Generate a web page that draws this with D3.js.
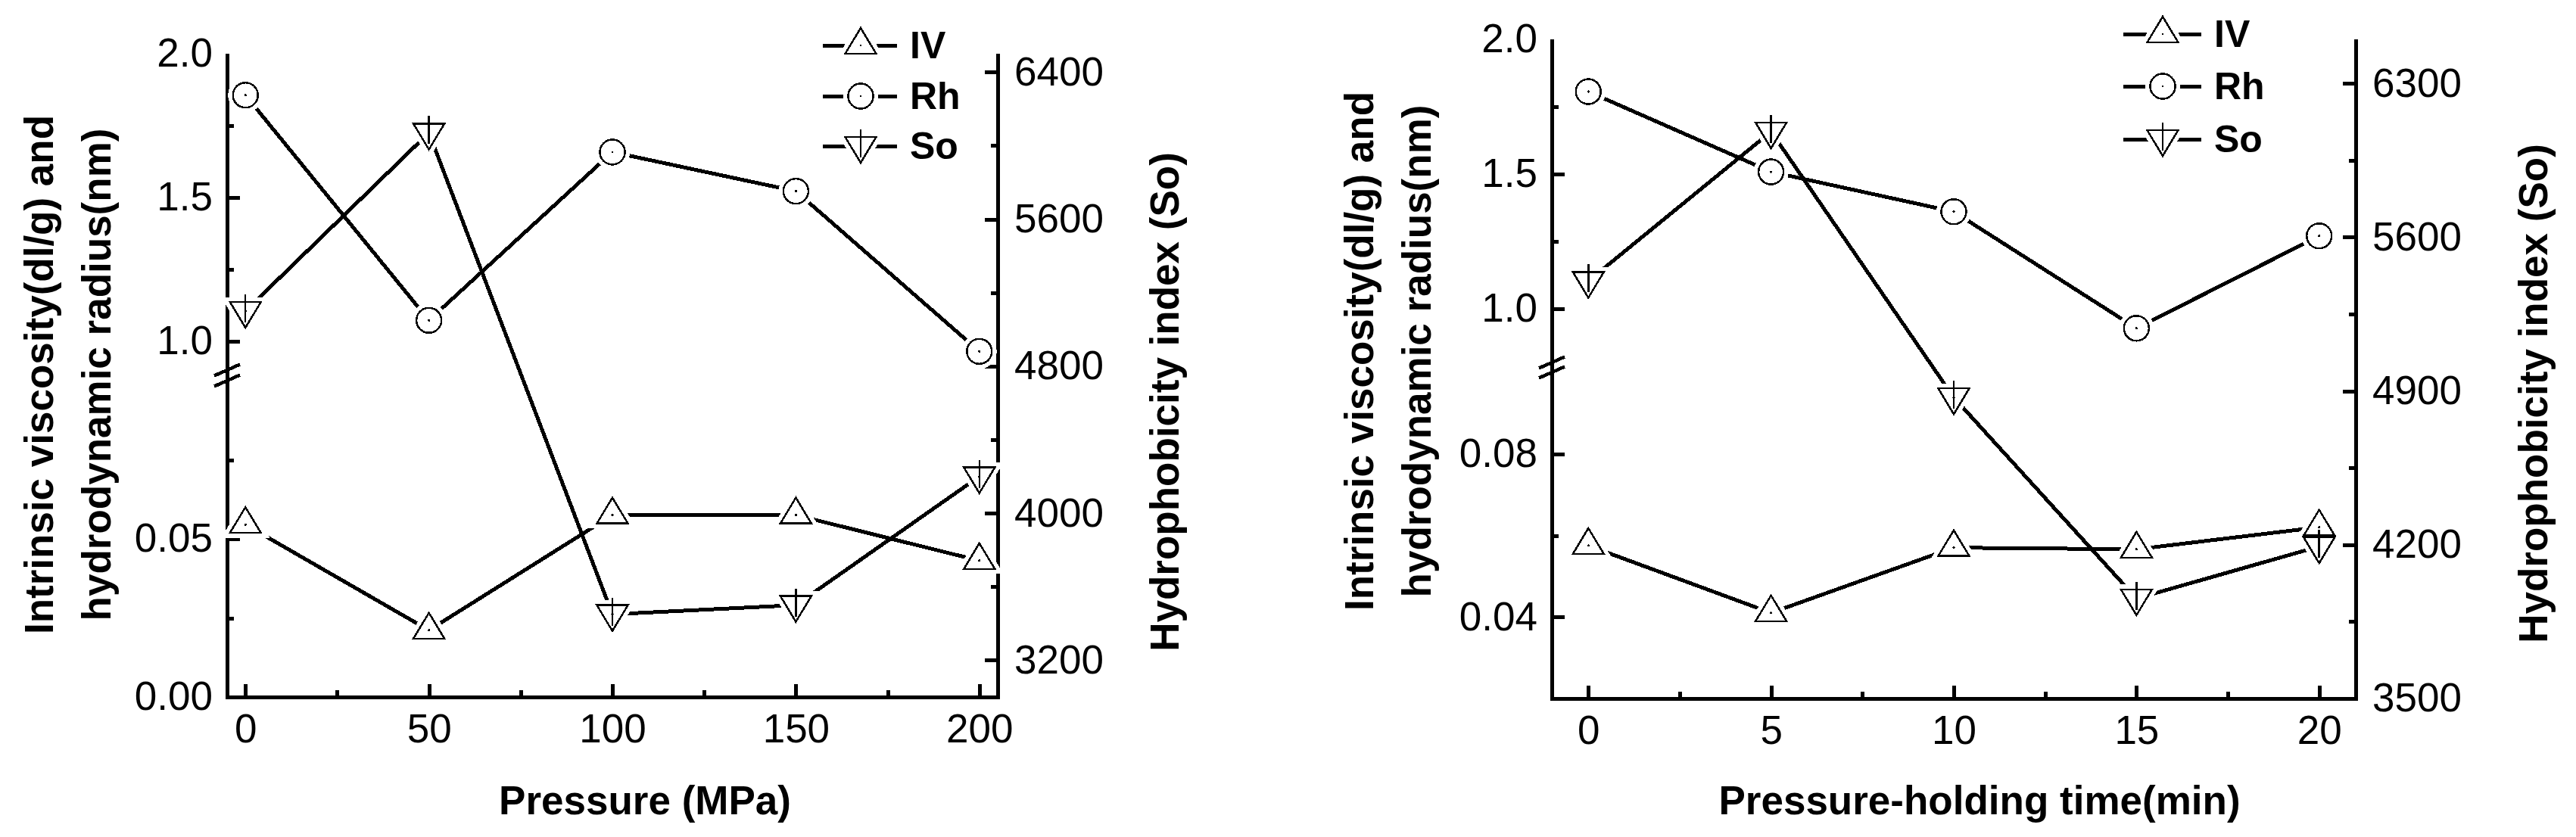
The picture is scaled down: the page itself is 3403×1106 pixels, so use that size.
<!DOCTYPE html>
<html>
<head>
<meta charset="utf-8">
<script src="https://cdn.jsdelivr.net/npm/d3@7"></script>
<style>
  body { margin: 0; background: #fff; }
  svg text { font-family: "Liberation Sans", Arial, sans-serif; fill: #000; }
  svg path, svg line, svg circle { shape-rendering: crispEdges; }
</style>
</head>
<body>
<svg id="chart" width="3403" height="1106"></svg>
<script>
// ---- left panel: pressure ----
const pressure = [0, 50, 100, 150, 200]
const ivPressure = [0.0545, 0.0211, 0.0575, 0.0575, 0.0431]
const rhPressure = [1.856, 1.073, 1.658, 1.522, 0.965]
const soPressure = [5100, 6070, 3450, 3500, 4200]

const pressureTicks = [0, 50, 100, 150, 200]
const pressureMinor = [25, 75, 125, 175]
const pressureLowTicks = [0, 0.05]
const pressureLowMinor = [0.025, 0.075]
const pressureUpTicks = [1.0, 1.5, 2.0]
const pressureUpMinor = [1.25, 1.75]
const pressureSoTicks = [3200, 4000, 4800, 5600, 6400]
const pressureSoMinor = [3600, 4400, 5200, 6000]

// ---- right panel: pressure-holding time ----
const holdTime = [0, 5, 10, 15, 20]
const ivTime = [0.0575, 0.041, 0.057, 0.0566, 0.062]
const rhTime = [1.806, 1.508, 1.36, 0.927, 1.27]
const soTime = [5400, 6080, 4870, 3955, 4192]

const timeTicks = [0, 5, 10, 15, 20]
const timeMinor = [2.5, 7.5, 12.5, 17.5]
const timeLowTicks = [0.04, 0.08]
const timeLowMinor = [0.06]
const timeUpTicks = [1.0, 1.5, 2.0]
const timeUpMinor = [1.25, 1.75]
const timeSoTicks = [3500, 4200, 4900, 5600, 6300]
const timeSoMinor = [3850, 4550, 5250, 5950]

const seriesNames = ['IV', 'Rh', 'So']

const panels = [
    {
        x: pressure, iv: ivPressure, rh: rhPressure, so: soPressure,
        xDomain: [-5, 205], lowDomain: [0, 0.1], upDomain: [0.9, 2.0], soDomain: [3000, 6500],
        xTicks: pressureTicks, xMinor: pressureMinor,
        lowTicks: pressureLowTicks, lowMinor: pressureLowMinor, lowFmt: '.2f',
        upTicks: pressureUpTicks, upMinor: pressureUpMinor,
        soTicks: pressureSoTicks, soMinor: pressureSoMinor,
        xTitle: 'Pressure (MPa)',
        box: { left: 300, right: 1318, top: 71, bottom: 921, breakHigh: 489, breakLow: 503 },
        titles: { y1: 70, y2: 146, yMid: 495, so: 1557, soMid: 531, xMid: 852, xBase: 1076 },
        legend: { x1: 1087, x2: 1185, xm: 1137, xt: 1202, rows: [60, 127, 193] }
    },
    {
        x: holdTime, iv: ivTime, rh: rhTime, so: soTime,
        xDomain: [-1, 21], lowDomain: [0.02, 0.10], upDomain: [0.8, 2.0], soDomain: [3500, 6500],
        xTicks: timeTicks, xMinor: timeMinor,
        lowTicks: timeLowTicks, lowMinor: timeLowMinor, lowFmt: '.2f',
        upTicks: timeUpTicks, upMinor: timeUpMinor,
        soTicks: timeSoTicks, soMinor: timeSoMinor,
        xTitle: 'Pressure-holding time(min)',
        box: { left: 2050, right: 3112, top: 52, bottom: 923, breakHigh: 479, breakLow: 492 },
        titles: { y1: 1814, y2: 1890, yMid: 464, so: 3365, soMid: 520, xMid: 2615, xBase: 1076 },
        legend: { x1: 2805, x2: 2908, xm: 2857, xt: 2925, rows: [45, 114, 184] }
    }
]

const svg = d3.select('#chart')
svg.append('rect').attr('width', 3403).attr('height', 1106).attr('fill', '#fff')

// marker shapes, centred on the data point
const markerPath = {
    IV: 'M0,-23L20.5,11L-20.5,11Z',
    Rh: null,
    So: 'M-20.5,-12L20.5,-12L0,22Z'
}

function drawMarker(g, name, cx, cy, halo) {
    const m = g.append('g').attr('transform', `translate(${cx},${cy})`)
    const shape = name === 'Rh'
        ? m.append('circle').attr('r', 16.5)
        : m.append('path').attr('d', markerPath[name])
    if (halo) {
        shape.attr('fill', '#fff').attr('stroke', '#fff').attr('stroke-width', 13)
        return
    }
    shape.attr('fill', 'none').attr('stroke', '#000').attr('stroke-width', 2.5)
    if (name === 'So') {
        m.append('line').attr('x1', 0).attr('x2', 0).attr('y1', -22).attr('y2', 15)
            .attr('stroke', '#000').attr('stroke-width', 2.5)
    }
    m.append('circle').attr('r', 1.6).attr('fill', '#000')
}

function styleAxis(g, size) {
    g.select('.domain').remove()
    g.selectAll('.tick line').attr('stroke', '#000').attr('stroke-width', 5)
    g.selectAll('.tick text').attr('font-size', size)
        .attr('font-family', '"Liberation Sans", Arial, sans-serif').attr('fill', '#000')
    g.attr('font-family', null).attr('font-size', null)
}

function drawPanel(p) {
    const b = p.box
    const g = svg.append('g')

    const x = d3.scaleLinear().domain(p.xDomain).range([b.left, b.right])
    const yLow = d3.scaleLinear().domain(p.lowDomain).range([b.bottom, b.breakLow])
    const yUp = d3.scaleLinear().domain(p.upDomain).range([b.breakHigh, b.top])
    const yLeft = v => v < 0.5 ? yLow(v) : yUp(v)
    const ySo = d3.scaleLinear().domain(p.soDomain).range([b.bottom, b.top])

    // axis frame (left, bottom, right)
    g.append('path')
        .attr('d', `M${b.left},${b.top}V${b.bottom}H${b.right}V${b.top}`)
        .attr('fill', 'none').attr('stroke', '#000').attr('stroke-width', 5)
        .attr('stroke-linejoin', 'miter')

    // x axis
    g.append('g').attr('transform', `translate(0,${b.bottom})`)
        .call(d3.axisBottom(x).tickValues(p.xTicks).tickSize(-17).tickPadding(22).tickFormat(d3.format('d')))
        .call(a => styleAxis(a, 53))
    g.append('g').attr('transform', `translate(0,${b.bottom})`)
        .call(d3.axisBottom(x).tickValues(p.xMinor).tickSize(-9).tickFormat(''))
        .call(a => styleAxis(a, 53))

    // left axis, two segments
    g.append('g').attr('transform', `translate(${b.left},0)`)
        .call(d3.axisLeft(yLow).tickValues(p.lowTicks).tickSize(-17).tickPadding(19).tickFormat(d3.format(p.lowFmt)))
        .call(a => styleAxis(a, 53))
    g.append('g').attr('transform', `translate(${b.left},0)`)
        .call(d3.axisLeft(yLow).tickValues(p.lowMinor).tickSize(-9).tickFormat(''))
        .call(a => styleAxis(a, 53))
    g.append('g').attr('transform', `translate(${b.left},0)`)
        .call(d3.axisLeft(yUp).tickValues(p.upTicks).tickSize(-17).tickPadding(19).tickFormat(d3.format('.1f')))
        .call(a => styleAxis(a, 53))
        .call(a => a.selectAll('.tick').filter(d => d === p.upDomain[1]).select('line').remove())
    g.append('g').attr('transform', `translate(${b.left},0)`)
        .call(d3.axisLeft(yUp).tickValues(p.upMinor).tickSize(-9).tickFormat(''))
        .call(a => styleAxis(a, 53))

    // right axis (So)
    g.append('g').attr('transform', `translate(${b.right},0)`)
        .call(d3.axisRight(ySo).tickValues(p.soTicks).tickSize(-17).tickPadding(22).tickFormat(d3.format('d')))
        .call(a => styleAxis(a, 53))
    g.append('g').attr('transform', `translate(${b.right},0)`)
        .call(d3.axisRight(ySo).tickValues(p.soMinor).tickSize(-9).tickFormat(''))
        .call(a => styleAxis(a, 53))

    // break marks
    ;[b.breakHigh, b.breakLow].forEach(yb => {
        g.append('line')
            .attr('x1', b.left - 17).attr('y1', yb + 7.5)
            .attr('x2', b.left + 17).attr('y2', yb - 7.5)
            .attr('stroke', '#000').attr('stroke-width', 4.5)
    })

    // series
    const series = [
        { name: 'IV', values: p.iv, y: yLeft },
        { name: 'Rh', values: p.rh, y: yLeft },
        { name: 'So', values: p.so, y: ySo }
    ]

    series.forEach(s => {
        const line = d3.line().x((d, i) => x(p.x[i])).y(d => s.y(d))
        g.append('path').datum(s.values).attr('d', line)
            .attr('fill', 'none').attr('stroke', '#000').attr('stroke-width', 5)
    })
    series.forEach(s => s.values.forEach((v, i) => drawMarker(g, s.name, x(p.x[i]), s.y(v), true)))
    series.forEach(s => s.values.forEach((v, i) => drawMarker(g, s.name, x(p.x[i]), s.y(v), false)))

    // legend
    const L = p.legend
    seriesNames.forEach((name, i) => {
        const ry = L.rows[i]
        g.append('line').attr('x1', L.x1).attr('x2', L.x2).attr('y1', ry).attr('y2', ry)
            .attr('stroke', '#000').attr('stroke-width', 5)
        drawMarker(g, name, L.xm, ry, true)
        drawMarker(g, name, L.xm, ry, false)
        g.append('text').attr('x', L.xt).attr('y', ry + 17)
            .attr('font-size', 50).attr('font-weight', 'bold').text(name)
    })

    // titles
    const T = p.titles
    const yTitle = ['Intrinsic viscosity(dl/g) and', 'hydrodynamic radius(nm)']
    ;[T.y1, T.y2].forEach((tx, i) => {
        g.append('text').attr('transform', `translate(${tx},${T.yMid}) rotate(-90)`)
            .attr('text-anchor', 'middle').attr('font-size', 53).attr('font-weight', 'bold')
            .text(yTitle[i])
    })
    g.append('text').attr('transform', `translate(${T.so},${T.soMid}) rotate(-90)`)
        .attr('text-anchor', 'middle').attr('font-size', 53).attr('font-weight', 'bold')
        .text('Hydrophobicity index (So)')
    g.append('text').attr('x', T.xMid).attr('y', T.xBase)
        .attr('text-anchor', 'middle').attr('font-size', 53).attr('font-weight', 'bold')
        .text(p.xTitle)
}

panels.forEach(drawPanel)
</script>
</body>
</html>
